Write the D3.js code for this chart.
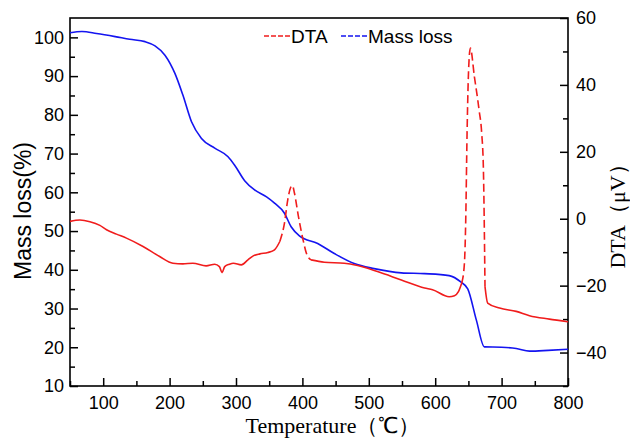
<!DOCTYPE html>
<html>
<head>
<meta charset="utf-8">
<script src="https://cdn.jsdelivr.net/npm/d3@7"></script>
<style>
  body { margin: 0; background: #fff; }
  svg { display: block; font-family: Arial, "Liberation Sans", sans-serif; }
</style>
</head>
<body>
<svg id="chart" width="630" height="438"></svg>
<script>
// mass loss curve (left axis)
const massTemp = [50, 68, 90, 118, 140, 163, 178, 193, 208, 220, 233, 248, 268, 288, 298, 313, 328, 346, 358, 373, 383, 396, 423, 448, 478, 508, 549, 584, 621, 639, 649, 662, 674, 700, 722, 742, 770, 800];
const massLoss = [101.2, 101.5, 101.0, 100.2, 99.5, 98.9, 97.8, 95.4, 90.7, 85.1, 78.2, 73.9, 71.4, 69.2, 67.0, 63.0, 60.6, 58.8, 57.2, 54.6, 51.1, 48.7, 46.8, 44.2, 41.6, 40.3, 39.2, 39.0, 38.5, 36.8, 35.1, 27.0, 20.1, 20.0, 19.7, 19.0, 19.2, 19.5];

// DTA curve (right axis)
const dtaTemp = [50, 65, 80, 95, 105, 120, 135, 160, 185, 205, 220, 235, 255, 268, 275, 279, 283, 290, 296, 308, 318, 326, 336, 348, 358, 366, 373, 378, 382, 385, 388, 394, 401, 406, 413, 433, 463, 483, 513, 549, 584, 596, 621, 629, 635, 640, 644, 646, 648, 650.5, 653, 659, 666, 670, 672.5, 675, 679, 697, 722, 742, 772, 797, 800];
const dtaVal = [-0.8, -0.4, -0.9, -2.0, -3.3, -4.6, -5.8, -8.3, -11.3, -13.3, -13.5, -13.3, -14.1, -13.6, -14.3, -16.1, -14.3, -13.6, -13.3, -13.8, -12.3, -11.1, -10.5, -10.1, -9.3, -6.8, -1.3, 5.7, 9.2, 9.9, 7.7, 0.7, -6.3, -10.3, -12.3, -13.0, -13.3, -14.0, -15.8, -18.3, -20.7, -21.2, -23.3, -23.0, -21.8, -19.2, -13.3, -0.3, 25.6, 45.5, 51.0, 42.5, 32.6, 25.6, 15.6, -20.3, -25.2, -26.7, -27.7, -29.0, -30.0, -30.7, -30.8];
// temperature ranges where the DTA trace is drawn dashed
const dtaDashed = [[366, 413], [640, 675]];

const xTicks = [100, 200, 300, 400, 500, 600, 700, 800];
const xMinor = [50, 150, 250, 350, 450, 550, 650, 750];
const yLeftTicks = [10, 20, 30, 40, 50, 60, 70, 80, 90, 100];
const yLeftMinor = [15, 25, 35, 45, 55, 65, 75, 85, 95];
const yRightTicks = [-40, -20, 0, 20, 40, 60];
const yRightMinor = [-50, -30, -10, 10, 30, 50];

const svg = d3.select("#chart");
const margin = { top: 18, right: 62, bottom: 52, left: 70 };
const width = 630 - margin.left - margin.right;
const height = 438 - margin.top - margin.bottom;

const g = svg.append("g").attr("transform", `translate(${margin.left},${margin.top})`);

const x = d3.scaleLinear().domain([50, 800]).range([0, width]);
const yL = d3.scaleLinear().domain([10, 105]).range([height, 0]);
const yR = d3.scaleLinear().domain([-50, 60]).range([height, 0]);

const tickFont = "18px";

function styleAxis(sel) {
  sel.select(".domain").remove();
  sel.selectAll(".tick line").attr("stroke", "#000").attr("stroke-width", 1.5);
  sel.selectAll("text").style("font-size", tickFont).attr("fill", "#000");
}

// major axes
g.append("g").attr("transform", `translate(0,${height})`)
  .call(d3.axisBottom(x).tickValues(xTicks).tickSize(-8).tickPadding(10))
  .call(styleAxis);
g.append("g")
  .call(d3.axisLeft(yL).tickValues(yLeftTicks).tickSize(-8).tickPadding(6))
  .call(styleAxis);
g.append("g").attr("transform", `translate(${width},0)`)
  .call(d3.axisRight(yR).tickValues(yRightTicks).tickSize(-8).tickPadding(8))
  .call(styleAxis);

// minor ticks
g.append("g").attr("transform", `translate(0,${height})`)
  .call(d3.axisBottom(x).tickValues(xMinor).tickSize(-5).tickFormat(""))
  .call(styleAxis);
g.append("g")
  .call(d3.axisLeft(yL).tickValues(yLeftMinor).tickSize(-5).tickFormat(""))
  .call(styleAxis);
g.append("g").attr("transform", `translate(${width},0)`)
  .call(d3.axisRight(yR).tickValues(yRightMinor).tickSize(-5).tickFormat(""))
  .call(styleAxis);

// frame
g.append("rect")
  .attr("width", width)
  .attr("height", height)
  .attr("fill", "none")
  .attr("stroke", "#000")
  .attr("stroke-width", 1.6);

// curves
const massData = massTemp.map((t, i) => ({ t: t, v: massLoss[i] }));
const dtaData = dtaTemp.map((t, i) => ({ t: t, v: dtaVal[i] }));

const massLine = d3.line().x(d => x(d.t)).y(d => yL(d.v)).curve(d3.curveMonotoneX);
const dtaLine = d3.line().x(d => x(d.t)).y(d => yR(d.v)).curve(d3.curveMonotoneX);

g.append("path")
  .datum(massData)
  .attr("d", massLine)
  .attr("fill", "none")
  .attr("stroke", "#1414f0")
  .attr("stroke-width", 1.6);

// split DTA into solid / dashed pieces
const cuts = [50];
dtaDashed.forEach(r => cuts.push(r[0], r[1]));
cuts.push(800);
for (let i = 0; i < cuts.length - 1; i++) {
  const lo = cuts[i], hi = cuts[i + 1];
  const piece = dtaData.filter(d => d.t >= lo && d.t <= hi);
  const dashed = i % 2 === 1;
  g.append("path")
    .datum(piece)
    .attr("d", dtaLine)
    .attr("fill", "none")
    .attr("stroke", "#f01c1c")
    .attr("stroke-width", 1.6)
    .attr("stroke-dasharray", dashed ? "8,4" : null);
}

// legend
const legend = svg.append("g").attr("transform", "translate(264,36)");
const legendItems = [
  { name: "DTA", color: "#f01c1c", x: 0 },
  { name: "Mass loss", color: "#1414f0", x: 77 }
];
legendItems.forEach(item => {
  legend.append("line")
    .attr("x1", item.x).attr("x2", item.x + 26)
    .attr("y1", 0).attr("y2", 0)
    .attr("stroke", item.color)
    .attr("stroke-width", 1.5)
    .attr("stroke-dasharray", "5,2");
  legend.append("text")
    .attr("x", item.x + 27)
    .attr("y", 7)
    .style("font-size", "19px")
    .text(item.name);
});

// axis titles
svg.append("text")
  .attr("transform", "translate(31,211) rotate(-90)")
  .attr("text-anchor", "middle")
  .style("font-size", "23px")
  .text("Mass loss(%)");

svg.append("text")
  .attr("transform", "translate(625,211) rotate(-90)")
  .attr("text-anchor", "middle")
  .style("font-family", "'Times New Roman', 'Liberation Serif', serif")
  .style("font-size", "22px")
  .text("DTA（μV）");

svg.append("text")
  .attr("x", 333)
  .attr("y", 433)
  .attr("text-anchor", "middle")
  .style("font-family", "'Times New Roman', 'Liberation Serif', serif")
  .style("font-size", "22px")
  .text("Temperature（℃）");
</script>
</body>
</html>
